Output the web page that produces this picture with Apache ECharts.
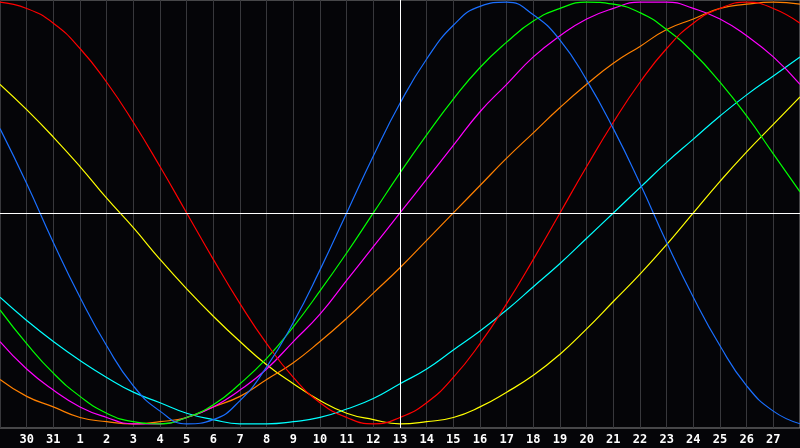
<!DOCTYPE html>
<html>
<head>
<meta charset="utf-8">
<script src="https://cdn.jsdelivr.net/npm/echarts@6/dist/echarts.min.js"></script>
<style>
  html, body { margin: 0; padding: 0; background: #050508; }
  #chart { width: 800px; height: 448px; }
</style>
</head>
<body>
<div id="chart"></div>
<script>
// days shown along the bottom (first and last are not labelled)
var days = ['29', '30', '31', '1', '2', '3', '4', '5', '6', '7', '8', '9', '10', '11', '12',
  '13', '14', '15', '16', '17', '18', '19', '20', '21', '22', '23', '24', '25', '26', '27', '28'];

// values, one per day, -1 .. 1
var physical = [0.40, 0.14, -0.14, -0.40, -0.63, -0.82, -0.94, -1.00, -0.98, -0.89, -0.73, -0.52, -0.27, 0.00, 0.27,
  0.52, 0.73, 0.89, 0.98, 1.00, 0.94, 0.82, 0.63, 0.40, 0.14, -0.14, -0.40, -0.63, -0.82, -0.94, -1.00];
var emotional = [1.00, 0.97, 0.90, 0.78, 0.62, 0.43, 0.22, 0.00, -0.22, -0.43, -0.62, -0.78, -0.90, -0.97, -1.00,
  -0.97, -0.90, -0.78, -0.62, -0.43, -0.22, 0.00, 0.22, 0.43, 0.62, 0.78, 0.90, 0.97, 1.00, 0.97, 0.90];
var intellectual = [-0.46, -0.62, -0.76, -0.87, -0.95, -0.99, -1.00, -0.97, -0.91, -0.81, -0.69, -0.54, -0.37, -0.19, 0.00,
  0.19, 0.37, 0.54, 0.69, 0.81, 0.91, 0.97, 1.00, 0.99, 0.95, 0.87, 0.76, 0.62, 0.46, 0.28, 0.10];
var intuitive = [-0.61, -0.74, -0.84, -0.92, -0.97, -1.00, -1.00, -0.97, -0.92, -0.84, -0.74, -0.61, -0.48, -0.32, -0.16,
  0.00, 0.16, 0.32, 0.48, 0.61, 0.74, 0.84, 0.92, 0.97, 1.00, 1.00, 0.97, 0.92, 0.84, 0.74, 0.61];
var aesthetic = [0.61, 0.49, 0.36, 0.22, 0.07, -0.07, -0.22, -0.36, -0.49, -0.61, -0.72, -0.81, -0.89, -0.95, -0.98,
  -1.00, -0.99, -0.97, -0.92, -0.85, -0.77, -0.67, -0.55, -0.42, -0.29, -0.15, 0.00, 0.15, 0.29, 0.42, 0.55];
var awareness = [-0.79, -0.87, -0.92, -0.97, -0.99, -1.00, -0.99, -0.97, -0.92, -0.87, -0.79, -0.71, -0.61, -0.50, -0.38,
  -0.26, -0.13, 0.00, 0.13, 0.26, 0.38, 0.50, 0.61, 0.71, 0.79, 0.87, 0.92, 0.97, 0.99, 1.00, 0.99];
var spiritual = [-0.40, -0.51, -0.61, -0.70, -0.78, -0.85, -0.90, -0.95, -0.98, -1.00, -1.00, -0.99, -0.97, -0.93, -0.88,
  -0.81, -0.74, -0.65, -0.56, -0.46, -0.35, -0.24, -0.12, 0.00, 0.12, 0.24, 0.35, 0.46, 0.56, 0.65, 0.74];

var today = '13';

var myChart = echarts.init(document.getElementById('chart'));

function curve(name, data, color) {
  return {
    name: name,
    type: 'line',
    data: data,
    smooth: true,
    showSymbol: false,
    lineStyle: { color: color, width: 1.2 },
    itemStyle: { color: color }
  };
}

var series = [
  curve('spiritual', spiritual, '#00ffff'),
  curve('aesthetic', aesthetic, '#ffff00'),
  curve('awareness', awareness, '#ff8000'),
  curve('intuitive', intuitive, '#ff00ff'),
  curve('intellectual', intellectual, '#00ff00'),
  curve('emotional', emotional, '#ff0000'),
  curve('physical', physical, '#1a6fff')
];

// white cross: zero line and today
series[0].markLine = {
  silent: true,
  symbol: 'none',
  label: { show: false },
  lineStyle: { color: '#ffffff', width: 1, type: 'solid' },
  data: [{ yAxis: 0 }, { xAxis: today }]
};

var option = {
  backgroundColor: '#050508',
  animation: false,
  grid: {
    left: 0,
    right: 0,
    top: 0,
    bottom: 20,
    show: true,
    borderColor: '#8a8a8a',
    borderWidth: 1
  },
  xAxis: {
    type: 'category',
    data: days,
    boundaryGap: false,
    axisLine: { show: true, lineStyle: { color: '#8a8a8a' } },
    axisTick: { show: false },
    splitLine: { show: true, interval: 0, lineStyle: { color: '#38383c', width: 1 } },
    axisLabel: {
      interval: function (i) { return i > 0 && i < days.length - 1; },
      color: '#ffffff',
      fontWeight: 'bold',
      fontSize: 12,
      fontFamily: 'DejaVu Sans Mono',
      margin: 6
    }
  },
  yAxis: {
    type: 'value',
    min: -1.02,
    max: 1.01,
    axisLine: { show: false },
    axisTick: { show: false },
    axisLabel: { show: false },
    splitLine: { show: false }
  },
  series: series
};

myChart.setOption(option);
</script>
</body>
</html>
